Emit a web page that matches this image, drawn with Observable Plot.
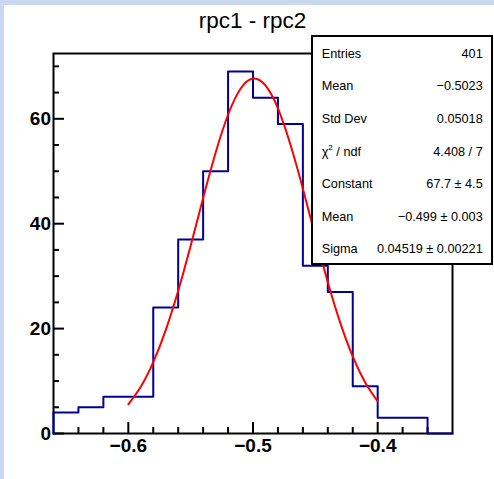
<!DOCTYPE html>
<html><head><meta charset="utf-8">
<script src="https://cdn.jsdelivr.net/npm/d3@7"></script>
<script src="https://cdn.jsdelivr.net/npm/@observablehq/plot@0.6"></script>
<style>
body{margin:0;background:#fff;}
#wrap{position:relative;width:494px;height:479px;overflow:hidden;background:#fff;font-family:"Liberation Sans",Arial,Helvetica,sans-serif;}
#wrap svg{position:absolute;left:0;top:0;}
.strip{position:absolute;background:#cad8ef;}
#title{position:absolute;left:0;width:505px;top:10px;text-align:center;font-size:22.5px;line-height:22px;color:#000;white-space:nowrap;}
#stats{position:absolute;left:311px;top:35px;width:182px;height:230px;box-sizing:border-box;border:2px solid #000;background:#fff;}
.row{position:absolute;left:8.7px;right:8.3px;height:32.57px;display:flex;justify-content:space-between;align-items:center;font-size:12.7px;color:#000;white-space:nowrap;}
.row sup{font-size:8px;vertical-align:6px;line-height:0;}
</style>
</head><body>
<div id="wrap"></div>
<script>
// Histogram bin edges and counts
const binEdges = [-0.66,-0.64,-0.62,-0.60,-0.58,-0.56,-0.54,-0.52,-0.50,-0.48,-0.46,-0.44,-0.42,-0.40,-0.38,-0.36,-0.34];
const binCounts = [4,5,7,7,24,37,50,69,64,59,32,27,9,3,3,0];

const fitX = [-0.60,-0.59,-0.58,-0.57,-0.56,-0.55,-0.54,-0.53,-0.52,-0.51,-0.50,-0.49,-0.48,-0.47,-0.46,-0.45,-0.44,-0.43,-0.42,-0.41,-0.40];
const fitY = [5.57,8.91,13.59,19.71,27.22,35.81,44.89,53.52,60.77,65.72,67.69,66.37,61.99,55.09,46.67,37.60,28.85,21.10,14.69,9.74,6.14];

// Axis ticks
const xMajorTicks = [-0.6,-0.5,-0.4];
const xTickLabels = ["\u22120.6","\u22120.5","\u22120.4"];
const xMinorTicks = [-0.64,-0.62,-0.58,-0.56,-0.54,-0.52,-0.48,-0.46,-0.44,-0.42,-0.38,-0.36];
const yMajorTicks = [0,20,40,60];
const yTickLabels = ["0","20","40","60"];
const yMinorTicks = [5,10,15,25,30,35,45,50,55,65,70];

// Stats box
const statLabels = ["Entries","Mean","Std Dev","\u03c7<sup>2</sup> / ndf","Constant","Mean","Sigma"];
const statValues = ["401","\u22120.5023","0.05018","4.408 / 7","67.7 \u00b1 4.5","\u22120.499 \u00b1 0.003","0.04519 \u00b1 0.00221"];

const title = "rpc1 - rpc2";

const W = 494, H = 479, mL = 53, mR = 42, mT = 53, mB = 46;
const plotW = W - mL - mR, plotH = H - mT - mB;

const histPts = [{x: binEdges[0], y: 0}];
binCounts.forEach((c, i) => histPts.push({x: binEdges[i], y: c}));
histPts.push({x: binEdges[binEdges.length - 1], y: binCounts[binCounts.length - 1]});

const font = "Liberation Sans, Arial, Helvetica, sans-serif";

const chart = Plot.plot({
  width: W, height: H,
  marginLeft: mL, marginRight: mR, marginTop: mT, marginBottom: mB,
  x: {domain: [-0.66, -0.34], axis: null},
  y: {domain: [0, 72.45], axis: null},
  style: {background: "transparent", fontFamily: font},
  marks: [
    Plot.frame({stroke: "#000", strokeWidth: 2}),
    Plot.tickX(xMajorTicks, {x: d => d, insetTop: plotH - 11, stroke: "#000", strokeWidth: 2}),
    Plot.tickX(xMinorTicks, {x: d => d, insetTop: plotH - 6, stroke: "#000", strokeWidth: 2}),
    Plot.tickY(yMajorTicks, {y: d => d, insetRight: plotW - 11, stroke: "#000", strokeWidth: 2}),
    Plot.tickY(yMinorTicks, {y: d => d, insetRight: plotW - 6, stroke: "#000", strokeWidth: 2}),
    Plot.text(yMajorTicks, {y: d => d, text: (d, i) => yTickLabels[i], frameAnchor: "left", textAnchor: "end", lineAnchor: "middle", dx: -2.5, fontSize: 19, fontWeight: "bold", fill: "#000", fontFamily: font}),
    Plot.text(xMajorTicks, {x: d => d, text: (d, i) => xTickLabels[i], frameAnchor: "bottom", lineAnchor: "top", dy: 5, fontSize: 19, fontWeight: "bold", fill: "#000", fontFamily: font}),
    Plot.line(histPts, {x: "x", y: "y", curve: "step-after", stroke: "#000099", strokeWidth: 2}),
    Plot.line(fitX, {x: d => d, y: (d, i) => fitY[i], curve: "natural", stroke: "#ff0000", strokeWidth: 2})
  ]
});

const wrap = document.getElementById("wrap");
wrap.appendChild(chart);

const s1 = document.createElement("div"); s1.className = "strip";
s1.style.cssText = "left:0;top:0;width:494px;height:5px;";
const s2 = document.createElement("div"); s2.className = "strip";
s2.style.cssText = "left:0;top:0;width:4px;height:479px;";
wrap.appendChild(s1); wrap.appendChild(s2);

const t = document.createElement("div"); t.id = "title"; t.textContent = title;
wrap.appendChild(t);

const box = document.createElement("div"); box.id = "stats";
statLabels.forEach((lab, i) => {
  const r = document.createElement("div"); r.className = "row";
  r.style.top = (0.6 + 32.57 * i) + "px";
  const a = document.createElement("span"); a.innerHTML = lab;
  const b = document.createElement("span"); b.textContent = statValues[i];
  r.appendChild(a); r.appendChild(b);
  box.appendChild(r);
});
wrap.appendChild(box);
</script>
</body></html>
